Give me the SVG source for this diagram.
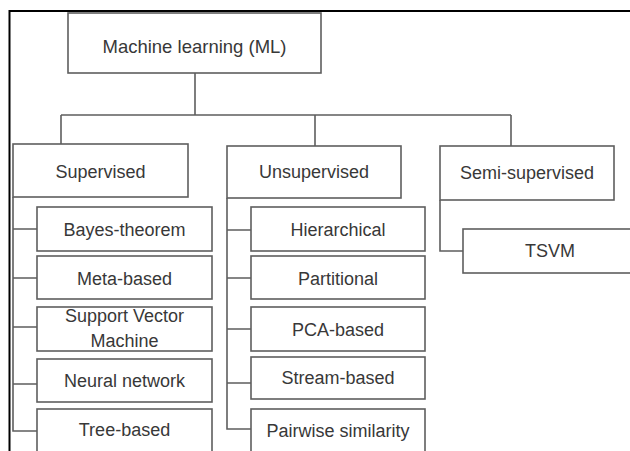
<svg xmlns="http://www.w3.org/2000/svg" width="630" height="451" viewBox="0 0 630 451">
<style>
.box{fill:#fff;stroke:#5e5e5e;stroke-width:1.6}
.lbl{font-family:"Liberation Sans",Arial,sans-serif;font-size:18px;fill:#383838;text-anchor:middle}
.con{fill:none;stroke:#5e5e5e;stroke-width:1.6}
</style>
<rect x="0" y="0" width="630" height="451" fill="#fff"/>
<path d="M9.5 451 V11 H630" fill="none" stroke="#000" stroke-width="2"/>
<g id="connectors">
<path class="con" d="M195 73 V115 M61 115 H511 M61 115 V144 M315 115 V146 M511 115 V146"/>
<path class="con" d="M13 197 V431 H37 M13 229 H37 M13 278 H37 M13 327 H37 M13 384 H37"/>
<path class="con" d="M227 198 V429 H251 M227 230 H251 M227 278 H251 M227 329 H251 M227 383 H251"/>
<path class="con" d="M440 200 V251 H463"/>
</g>
<g id="root"><rect class="box" x="68" y="13" width="253" height="60"/><text class="lbl" x="194.5" y="53" style="font-size:18.5px">Machine learning (ML)</text></g>
<g id="supervised"><rect class="box" x="13" y="144" width="175" height="53"/><text class="lbl" x="100.5" y="178">Supervised</text></g>
<g id="unsupervised"><rect class="box" x="227" y="146" width="174" height="52"/><text class="lbl" x="314" y="178">Unsupervised</text></g>
<g id="semi"><rect class="box" x="440" y="146" width="174" height="54"/><text class="lbl" x="527" y="179">Semi-supervised</text></g>
<g id="bayes"><rect class="box" x="37" y="207" width="175" height="44"/><text class="lbl" x="124.5" y="236">Bayes-theorem</text></g>
<g id="meta"><rect class="box" x="37" y="256" width="175" height="43"/><text class="lbl" x="124.5" y="285">Meta-based</text></g>
<g id="svm"><rect class="box" x="37" y="307" width="175" height="44"/><text class="lbl" x="124.5" y="322">Support Vector</text><text class="lbl" x="124.5" y="347">Machine</text></g>
<g id="neural"><rect class="box" x="37" y="359" width="175" height="43"/><text class="lbl" x="124.5" y="387">Neural network</text></g>
<g id="tree"><rect class="box" x="37" y="409" width="175" height="50"/><text class="lbl" x="124.5" y="436">Tree-based</text></g>
<g id="hier"><rect class="box" x="251" y="207" width="174" height="44"/><text class="lbl" x="338" y="236">Hierarchical</text></g>
<g id="part"><rect class="box" x="251" y="256" width="174" height="43"/><text class="lbl" x="338" y="285">Partitional</text></g>
<g id="pca"><rect class="box" x="251" y="307" width="174" height="44"/><text class="lbl" x="338" y="336">PCA-based</text></g>
<g id="stream"><rect class="box" x="251" y="357" width="174" height="42"/><text class="lbl" x="338" y="384">Stream-based</text></g>
<g id="pairwise"><rect class="box" x="251" y="409" width="174" height="50"/><text class="lbl" x="338" y="437">Pairwise similarity</text></g>
<g id="tsvm"><rect class="box" x="463" y="229" width="174" height="44"/><text class="lbl" x="550" y="257">TSVM</text></g>
</svg>
